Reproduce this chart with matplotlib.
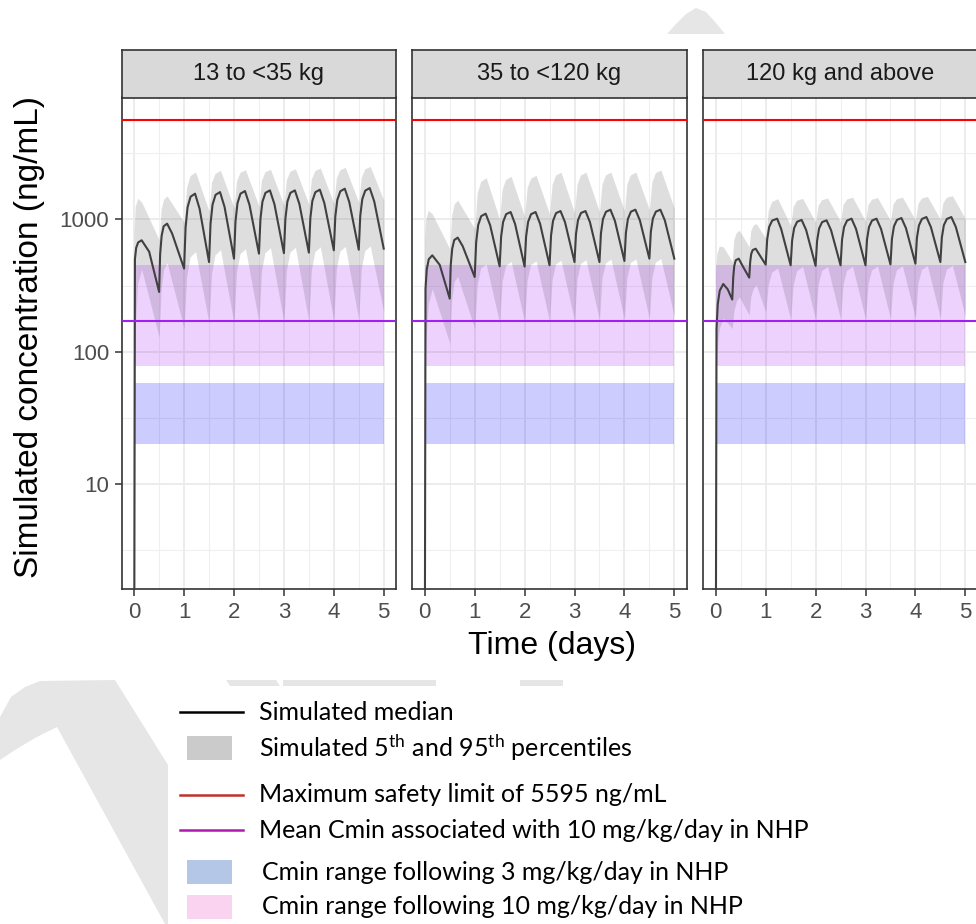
import matplotlib
matplotlib.use("Agg")
import matplotlib.pyplot as plt
from matplotlib.patches import Polygon, Rectangle
from matplotlib.lines import Line2D
from matplotlib.ticker import FixedLocator, NullFormatter, FixedFormatter

plt.rcParams['font.family'] = ['Liberation Sans', 'DejaVu Sans']
plt.rcParams['mathtext.fontset'] = 'custom'
plt.rcParams['mathtext.rm'] = 'Lato'
plt.rcParams['mathtext.it'] = 'Lato:italic'
plt.rcParams['mathtext.bf'] = 'Lato:bold'

# ---------------- data ----------------
PANELS = ["13 to <35 kg", "35 to <120 kg", "120 kg and above"]

SAFETY_LIMIT = 5595          # ng/mL
CMIN_MEAN_10 = 170           # ng/mL
CMIN_10_RANGE = (78, 450)    # ng/mL
CMIN_3_RANGE = (20, 58)      # ng/mL
BAND_T = (0, 5)              # days

X_TICKS = [0, 1, 2, 3, 4, 5]
X_MINOR = [0.5, 1.5, 2.5, 3.5, 4.5]
Y_TICKS = [10, 100, 1000]
Y_TICK_LABELS = ["10", "100", "1000"]
Y_MINOR = [3.162, 31.62, 316.2, 3162]

# median profiles
TM12 = [0.0, 0.015, 0.04, 0.08, 0.15, 0.3,
        0.5, 0.52, 0.55, 0.59, 0.66, 0.76,
        1.0, 1.03, 1.07, 1.13, 1.22, 1.31,
        1.5, 1.53, 1.57, 1.63, 1.72, 1.81,
        2.0, 2.03, 2.07, 2.13, 2.22, 2.31,
        2.5, 2.53, 2.57, 2.63, 2.72, 2.81,
        3.0, 3.03, 3.07, 3.13, 3.22, 3.31,
        3.5, 3.53, 3.57, 3.63, 3.72, 3.81,
        4.0, 4.03, 4.07, 4.13, 4.22, 4.31,
        4.5, 4.53, 4.57, 4.63, 4.72, 4.81,
        5.0]
MED_1 = [0.3, 500, 610, 670, 695, 570,
         283, 544, 750, 886, 928, 782,
         425, 869, 1236, 1483, 1563, 1204,
         476, 929, 1291, 1531, 1607, 1245,
         505, 964, 1324, 1563, 1636, 1288,
         551, 1009, 1358, 1585, 1655, 1303,
         556, 1014, 1361, 1585, 1655, 1306,
         561, 1023, 1377, 1603, 1675, 1327,
         584, 1052, 1403, 1629, 1704, 1349,
         590, 1064, 1419, 1648, 1722, 1365,
         601]
MED_2 = [0.3, 300, 420, 500, 535, 453,
         252, 452, 601, 698, 728, 627,
         367, 673, 906, 1057, 1104, 902,
         442, 743, 957, 1094, 1136, 921,
         440, 741, 957, 1094, 1136, 927,
         450, 756, 975, 1114, 1155, 951,
         476, 776, 986, 1117, 1155, 951,
         476, 786, 1005, 1140, 1183, 973,
         485, 792, 1007, 1143, 1183, 982,
         505, 807, 1014, 1143, 1183, 982,
         505]
TM3 = [0.0, 0.015, 0.04, 0.08, 0.15, 0.24,
       0.33, 0.35, 0.37, 0.40, 0.46, 0.53,
       0.67, 0.69, 0.71, 0.74, 0.80, 0.87,
       1.0, 1.03, 1.07, 1.13, 1.23, 1.31,
       1.5, 1.53, 1.57, 1.63, 1.72, 1.81,
       2.0, 2.03, 2.07, 2.13, 2.22, 2.31,
       2.5, 2.53, 2.57, 2.63, 2.72, 2.81,
       3.0, 3.03, 3.07, 3.13, 3.22, 3.31,
       3.5, 3.53, 3.57, 3.63, 3.72, 3.81,
       4.0, 4.03, 4.07, 4.13, 4.22, 4.31,
       4.5, 4.53, 4.57, 4.63, 4.72, 4.81,
       5.0]
MED_3 = [0.3, 150, 230, 290, 325, 296,
         248, 366, 444, 491, 505, 450,
         363, 479, 548, 587, 600, 544,
         455, 706, 877, 979, 1012, 847,
         450, 695, 859, 959, 990, 832,
         446, 689, 853, 953, 983, 828,
         450, 703, 875, 979, 1012, 847,
         450, 703, 875, 979, 1012, 849,
         457, 713, 885, 991, 1023, 859,
         463, 723, 899, 1007, 1041, 875,
         476, 731, 904, 1007, 1041, 875,
         476]

# 5th / 95th percentile profiles
T12 = [0.0, 0.02, 0.07, 0.15,
       0.5, 0.54, 0.59, 0.66,
       1.0, 1.05, 1.12, 1.23,
       1.5, 1.55, 1.62, 1.73,
       2.0, 2.05, 2.12, 2.23,
       2.5, 2.55, 2.62, 2.73,
       3.0, 3.05, 3.12, 3.23,
       3.5, 3.55, 3.62, 3.73,
       4.0, 4.05, 4.12, 4.23,
       4.5, 4.55, 4.62, 4.73,
       5.0]
HI_1 = [800, 1250, 1440, 1350,
        700, 1194, 1422, 1500,
        950, 1750, 2140, 2275,
        1150, 1892, 2224, 2340,
        1220, 1941, 2265, 2370,
        1260, 1972, 2286, 2390,
        1280, 1995, 2306, 2410,
        1300, 2018, 2334, 2440,
        1320, 2046, 2366, 2470,
        1340, 2080, 2404, 2510,
        1390]
LO_1 = [60, 150, 330, 420,
        129, 300, 420, 470,
        150, 370, 520, 570,
        165, 390, 540, 590,
        165, 400, 550, 600,
        167, 405, 560, 610,
        168, 410, 565, 615,
        170, 415, 570, 620,
        172, 420, 575, 625,
        174, 425, 580, 630,
        200]
HI_2 = [700, 1000, 1170, 1100,
        600, 1081, 1312, 1392,
        850, 1581, 1936, 2062,
        1000, 1686, 2000, 2110,
        1050, 1734, 2041, 2150,
        1100, 1829, 2158, 2270,
        1120, 1837, 2163, 2270,
        1140, 1845, 2165, 2270,
        1160, 1854, 2167, 2270,
        1180, 1919, 2250, 2360,
        1210]
LO_2 = [50, 120, 230, 300,
        116, 250, 340, 370,
        150, 320, 430, 460,
        165, 340, 450, 480,
        168, 345, 455, 485,
        170, 350, 460, 490,
        172, 355, 465, 495,
        174, 360, 470, 500,
        176, 362, 472, 502,
        178, 365, 475, 505,
        185]
T3 = [0.0, 0.02, 0.07, 0.15,
      0.33, 0.36, 0.41, 0.47,
      0.67, 0.70, 0.75, 0.81,
      1.0, 1.05, 1.12, 1.24,
      1.5, 1.55, 1.62, 1.74,
      2.0, 2.05, 2.12, 2.24,
      2.5, 2.55, 2.62, 2.74,
      3.0, 3.05, 3.12, 3.24,
      3.5, 3.55, 3.62, 3.74,
      4.0, 4.05, 4.12, 4.24,
      4.5, 4.55, 4.62, 4.74,
      5.0]
HI_3 = [400, 550, 630, 620,
        480, 702, 795, 826,
        620, 822, 904, 928,
        720, 1165, 1365, 1433,
        900, 1250, 1393, 1440,
        950, 1277, 1406, 1450,
        960, 1294, 1425, 1470,
        970, 1292, 1418, 1460,
        980, 1300, 1428, 1470,
        990, 1316, 1447, 1490,
        1000, 1334, 1467, 1510,
        1010]
LO_3 = [40, 100, 150, 180,
        150, 200, 240, 260,
        190, 260, 300, 320,
        200, 320, 400, 430,
        175, 320, 410, 440,
        175, 320, 410, 440,
        176, 322, 412, 442,
        177, 324, 414, 444,
        178, 326, 416, 446,
        179, 328, 418, 448,
        180, 330, 420, 450,
        185]

LEGEND_LABELS = [
    "Simulated median",
    r"Simulated 5$^{\mathrm{th}}$ and 95$^{\mathrm{th}}$ percentiles",
    "Maximum safety limit of 5595 ng/mL",
    "Mean Cmin associated with 10 mg/kg/day in NHP",
    "Cmin range following 3 mg/kg/day in NHP",
    "Cmin range following 10 mg/kg/day in NHP",
]

SERIES = [(TM12, MED_1, T12, LO_1, HI_1),
          (TM12, MED_2, T12, LO_2, HI_2),
          (TM3, MED_3, T3, LO_3, HI_3)]

# ---------------- layout ----------------
W, H = 976, 924
fig = plt.figure(figsize=(W / 100, H / 100), dpi=100)
fig.patch.set_facecolor('white')


def fx(px):
    return px / W


def fy(py):
    return 1 - py / H


WM = '#E6E6E6'
# watermark fragments (visible parts only)
wm_shapes = [
    [(667, 34), (676, 24), (686, 14), (696, 8), (706, 12), (716, 23), (725, 34)],
    [(0, 717), (11, 697), (25, 687), (40, 681), (115, 680), (168, 765), (168, 924),
     (165, 924), (57, 727), (35, 738), (15, 750), (0, 760)],
    [(226, 680), (276, 680), (280, 686), (230, 686)],
    [(283, 680), (436, 680), (436, 686), (283, 686)],
    [(520, 680), (563, 680), (563, 686), (520, 686)],
]
for shp in wm_shapes:
    fig.add_artist(Polygon([(fx(x), fy(y)) for x, y in shp], closed=True,
                           facecolor=WM, edgecolor='none', transform=fig.transFigure, zorder=0))

LEFTS = [121.7, 412.3, 703.3]
PW = 274.5
TOP, BOT = 97.5, 589
STRIP_TOP = 50
YMIN, YMAX = 1.618, 8318
EDGE = '#333333'

for i, (name, (tm, med, t, lo, hi)) in enumerate(zip(PANELS, SERIES)):
    left = LEFTS[i]
    ax = fig.add_axes([fx(left), fy(BOT), PW / W, (BOT - TOP) / H])
    ax.set_yscale('log')
    ax.set_xlim(-0.25, 5.25)
    ax.set_ylim(YMIN, YMAX)
    ax.set_facecolor('white')

    ax.xaxis.set_major_locator(FixedLocator(X_TICKS))
    ax.xaxis.set_minor_locator(FixedLocator(X_MINOR))
    ax.yaxis.set_major_locator(FixedLocator(Y_TICKS))
    ax.yaxis.set_minor_locator(FixedLocator(Y_MINOR))
    ax.yaxis.set_minor_formatter(NullFormatter())
    ax.xaxis.set_minor_formatter(NullFormatter())
    if i == 0:
        ax.yaxis.set_major_formatter(FixedFormatter(Y_TICK_LABELS))
    else:
        ax.tick_params(axis='y', which='major', left=False, labelleft=False)
    ax.set_axisbelow(True)
    ax.grid(which='major', color='#EBEBEB', lw=1.3)
    ax.grid(which='minor', color='#EFEFEF', lw=0.8)
    ax.tick_params(which='minor', length=0)
    ax.tick_params(which='major', length=5, width=1.1, color=EDGE,
                   labelcolor='#4D4D4D', labelsize=16, pad=4)
    for sp in ax.spines.values():
        sp.set_color(EDGE)
        sp.set_linewidth(1.2)

    ax.fill_between(t, lo, hi, color='#7F7F7F', alpha=0.25, lw=0, zorder=1)
    ax.fill_between(BAND_T, CMIN_10_RANGE[0], CMIN_10_RANGE[1], color='#A020F0',
                    alpha=0.2, lw=0, zorder=2)
    ax.fill_between(BAND_T, CMIN_3_RANGE[0], CMIN_3_RANGE[1], color='#0000FF',
                    alpha=0.2, lw=0, zorder=2)
    ax.plot(tm, med, color='#404040', lw=1.5, zorder=3, solid_joinstyle='round')
    ax.axhline(SAFETY_LIMIT, color='#FF0000', lw=1.5, zorder=4)
    ax.axhline(CMIN_MEAN_10, color='#A020F0', lw=1.5, zorder=4)

    sax = fig.add_axes([fx(left), fy(TOP), PW / W, (TOP - STRIP_TOP) / H])
    sax.set_facecolor('#D9D9D9')
    sax.set_xticks([])
    sax.set_yticks([])
    for sp in sax.spines.values():
        sp.set_color(EDGE)
        sp.set_linewidth(1.2)
    sax.text(0.5, 0.5, name, ha='center', va='center', fontsize=17,
             color='#1A1A1A', transform=sax.transAxes)

fig.text(fx(30), fy(337), "Simulated concentration (ng/mL)", rotation=90,
         ha='center', va='center', fontsize=24, color='black')
fig.text(fx(552), fy(646), "Time (days)", ha='center', va='center',
         fontsize=23, color='black')

# ---------------- legend ----------------
LFONT = ['Lato', 'DejaVu Sans']
LSIZE = 18
leg_rows = [
    ('line', '#000000', 712),
    ('box', '#CBCBCB', 748),
    ('line', '#C0302A', 795),
    ('line', '#B01AB0', 830),
    ('box', '#B4C7E7', 872),
    ('box', '#F9D3F0', 907),
]
text_x = [259, 259, 259, 259, 262, 262]
for (kind, col, yc), lab, tx in zip(leg_rows, LEGEND_LABELS, text_x):
    if kind == 'line':
        fig.add_artist(Line2D([fx(180), fx(243)], [fy(yc), fy(yc)], color=col, lw=1.8,
                              transform=fig.transFigure))
    else:
        fig.add_artist(Rectangle((fx(187), fy(yc + 12)), 45 / W, 24 / H, facecolor=col,
                                 edgecolor='none', transform=fig.transFigure))
    fig.text(fx(tx), fy(yc), lab, ha='left', va='center', fontsize=LSIZE,
             family=LFONT, color='black')

fig.savefig('out.png', dpi=100)
